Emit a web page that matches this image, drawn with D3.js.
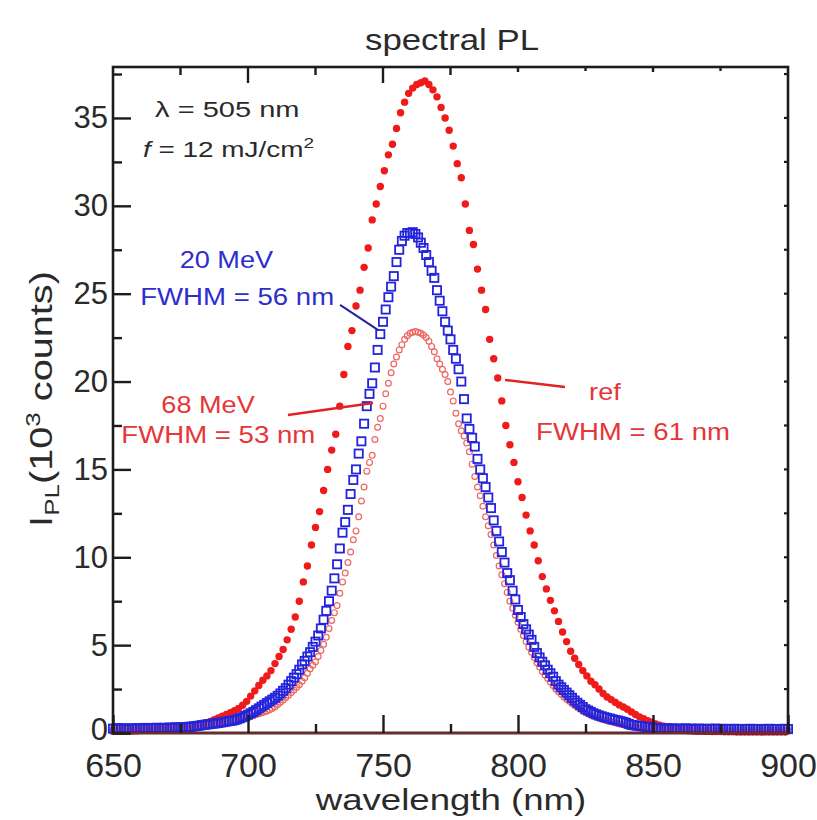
<!DOCTYPE html>
<html>
<head>
<meta charset="utf-8">
<script src="https://cdn.jsdelivr.net/npm/d3@7"></script>
<style>
  html, body { margin: 0; padding: 0; background: #fff; }
  svg { display: block; font-family: "Liberation Sans", Arial, Helvetica, sans-serif; }
</style>
</head>
<body>
<svg id="chart" width="817" height="820"></svg>
<script>
// ---- axis ticks ----
const xTicks = [650, 700, 750, 800, 850, 900];
const xMinorTicks = [675, 725, 775, 825, 875];
const yTicks = [0, 5, 10, 15, 20, 25, 30, 35];
const yMinorTicks = [2.5, 7.5, 12.5, 17.5, 22.5, 27.5, 32.5, 37.5];

// ---- reference spectrum (filled dots), sampled every 1.5 nm from 650 nm ----
const refStart = 650, refStep = 1.5;
const refCounts = [
  0.10,0.10,0.10,0.10,0.12,0.12,0.13,0.14,0.15,0.16,   // 650
  0.17,0.19,0.20,0.22,0.24,0.26,0.28,0.30,0.32,0.35,   // 665
  0.40,0.45,0.52,0.58,0.66,0.75,0.85,0.95,1.05,1.15,   // 680
  1.27,1.40,1.58,1.80,2.10,2.40,2.70,3.00,3.25,3.55,   // 695
  3.95,4.35,4.75,5.30,5.90,6.60,7.50,8.60,9.50,10.7,   // 710
  11.7,12.6,13.8,15.0,16.1,17.0,18.6,20.4,22.0,22.9,   // 725
  24.3,25.2,26.5,27.6,29.2,30.1,31.1,32.0,32.9,33.5,   // 740
  34.4,35.3,35.9,36.4,36.7,36.9,37.0,37.1,36.9,36.6,   // 755
  36.2,35.6,35.0,34.3,33.4,32.4,31.6,30.1,28.6,27.8,   // 770
  26.4,25.2,24.1,22.4,21.3,20.2,18.9,17.5,16.4,15.4,   // 785
  14.3,13.4,12.4,11.5,10.7,9.8,8.9,8.2,7.55,6.95,      // 800
  6.35,5.75,5.20,4.65,4.25,3.90,3.55,3.25,2.95,2.75,   // 815
  2.50,2.25,2.05,1.90,1.75,1.60,1.48,1.35,1.20,1.05,   // 830
  0.92,0.82,0.70,0.62,0.52,0.45,0.38,0.32,0.27,0.22,   // 845
  0.18,0.15,0.13,0.12,0.10,0.10,0.09,0.09,0.08,0.08,   // 860
  0.08,0.07,0.07,0.07,0.06,0.06,0.06,0.06,0.05,0.05,   // 875
  0.05,0.05,0.05,0.05,0.05,0.05,0.05                   // 890
];

// ---- 20 MeV spectrum (open squares), every 1 nm from 650 nm ----
const mev20Start = 650, mev20Step = 1;
const mev20Counts = [
  0.25,0.22,0.28,0.24,0.26,0.22,0.27,0.25,0.23,0.28,   // 650
  0.26,0.24,0.29,0.25,0.27,0.26,0.30,0.27,0.28,0.30,   // 660
  0.28,0.31,0.29,0.32,0.30,0.33,0.31,0.34,0.35,0.36,   // 670
  0.38,0.40,0.42,0.45,0.47,0.49,0.51,0.53,0.55,0.57,   // 680
  0.60,0.62,0.65,0.68,0.70,0.73,0.78,0.84,0.90,0.97,   // 690
  1.04,1.12,1.20,1.30,1.40,1.50,1.60,1.70,1.80,1.90,   // 700
  2.00,2.12,2.25,2.40,2.55,2.75,2.95,3.15,3.35,3.60,   // 710
  3.90,4.10,4.35,4.60,4.90,5.20,5.55,5.95,6.45,6.95,   // 720
  7.50,8.10,8.80,9.60,10.5,11.4,12.0,12.7,13.6,14.4,   // 730
  15.0,15.9,16.6,17.6,18.6,19.3,19.9,20.8,21.8,22.7,   // 740
  23.4,24.1,24.8,25.4,26.0,26.8,27.5,28.0,28.3,28.45,  // 750
  28.45,28.5,28.4,28.2,27.9,27.6,27.2,26.8,26.3,25.9,  // 760
  25.2,24.6,24.0,23.4,22.9,22.4,21.8,21.3,20.7,20.0,   // 770
  19.0,17.9,17.3,16.8,16.3,15.6,15.0,14.5,14.0,13.4,   // 780
  12.8,12.1,11.5,10.9,10.3,9.7,9.1,8.7,8.1,7.6,        // 790
  7.0,6.6,6.2,5.9,5.6,5.3,4.9,4.55,4.3,4.05,           // 800
  3.85,3.6,3.4,3.2,2.95,2.75,2.6,2.45,2.3,2.15,        // 810
  2.0,1.85,1.72,1.6,1.48,1.35,1.28,1.2,1.12,1.06,      // 820
  1.0,0.95,0.9,0.86,0.82,0.78,0.74,0.71,0.67,0.63,     // 830
  0.58,0.52,0.46,0.44,0.42,0.40,0.38,0.36,0.34,0.32,   // 840
  0.30,0.28,0.27,0.26,0.25,0.27,0.24,0.26,0.25,0.23,   // 850
  0.25,0.24,0.26,0.23,0.25,0.24,0.22,0.25,0.23,0.24,   // 860
  0.22,0.24,0.23,0.25,0.22,0.23,0.24,0.21,0.23,0.22,   // 870
  0.24,0.22,0.23,0.21,0.23,0.22,0.24,0.21,0.22,0.23,   // 880
  0.21,0.23,0.22,0.24,0.21,0.22,0.23,0.21,0.22,0.24,0.22 // 890
];

// ---- 68 MeV spectrum (open circles), every 1 nm from 650 nm ----
const mev68Start = 650, mev68Step = 1;
const mev68Counts = [
  0.20,0.18,0.22,0.20,0.19,0.21,0.20,0.22,0.19,0.21,   // 650
  0.20,0.22,0.21,0.23,0.22,0.24,0.23,0.25,0.24,0.26,   // 660
  0.25,0.27,0.26,0.28,0.27,0.29,0.30,0.31,0.32,0.33,   // 670
  0.34,0.36,0.37,0.39,0.40,0.42,0.44,0.46,0.48,0.50,   // 680
  0.52,0.55,0.58,0.61,0.64,0.67,0.71,0.75,0.80,0.85,   // 690
  0.90,0.95,1.00,1.05,1.10,1.15,1.20,1.25,1.32,1.40,   // 700
  1.50,1.62,1.75,1.88,2.02,2.15,2.30,2.45,2.60,2.75,   // 710
  2.95,3.15,3.40,3.65,3.85,4.05,4.35,4.70,5.05,5.45,   // 720
  5.95,6.40,6.85,7.25,7.95,8.60,9.10,9.70,10.3,11.0,   // 730
  11.5,12.3,13.2,14.0,14.9,15.4,15.8,16.7,17.4,17.9,   // 740
  18.6,19.3,19.9,20.5,21.0,21.4,21.8,22.1,22.4,22.6,   // 750
  22.75,22.8,22.85,22.8,22.75,22.65,22.5,22.3,22.0,21.7, // 760
  21.3,21.0,20.7,20.4,20.0,19.4,18.9,18.2,17.6,17.2,   // 770
  16.9,16.5,16.0,15.3,14.6,14.0,13.5,12.9,12.3,11.8,   // 780
  11.3,10.7,10.1,9.5,9.0,8.5,8.0,7.5,7.1,6.7,          // 790
  6.3,5.9,5.55,5.2,4.9,4.6,4.3,4.0,3.75,3.5,           // 800
  3.3,3.1,2.9,2.7,2.5,2.35,2.2,2.05,1.92,1.8,          // 810
  1.68,1.56,1.45,1.35,1.26,1.18,1.1,1.03,0.96,0.9,     // 820
  0.85,0.8,0.75,0.7,0.66,0.62,0.58,0.54,0.5,0.47,      // 830
  0.44,0.41,0.38,0.36,0.34,0.32,0.3,0.28,0.27,0.26,    // 840
  0.25,0.24,0.23,0.22,0.22,0.21,0.21,0.2,0.2,0.2,      // 850
  0.2,0.19,0.19,0.19,0.18,0.18,0.18,0.18,0.17,0.17,    // 860
  0.17,0.17,0.17,0.16,0.16,0.16,0.16,0.16,0.16,0.16,   // 870
  0.15,0.15,0.15,0.15,0.15,0.15,0.15,0.15,0.15,0.15,   // 880
  0.15,0.15,0.15,0.15,0.15,0.15,0.15,0.15,0.15,0.15,0.15 // 890
];

// ---- annotation texts ----
const titleText = "spectral PL";
const xAxisTitle = "wavelength (nm)";
const refLabel = ["ref", "FWHM = 61 nm"];
const mev20Label = ["20 MeV", "FWHM = 56 nm"];
const mev68Label = ["68 MeV", "FWHM = 53 nm"];

// ---------------------------------------------------------------
(function draw() {
  const svg = d3.select("#chart");
  const plotLeft = 113, plotRight = 788, plotTop = 67, plotBottom = 733;

  const x = d3.scaleLinear().domain([650, 900]).range([plotLeft, plotRight]);
  const y = d3.scaleLinear().domain([0, 37.9]).range([plotBottom, plotTop]);

  const toPoints = (start, step, vals) => vals.map((v, i) => ({ w: start + i * step, v }));
  const refPts = toPoints(refStart, refStep, refCounts);
  const mev20Pts = toPoints(mev20Start, mev20Step, mev20Counts);
  const mev68Pts = toPoints(mev68Start, mev68Step, mev68Counts);

  const axisColor = "#1c1c1c";
  const textColor = "#2a2a2a";

  // ---- data marks ----
  svg.append("g").selectAll("circle").data(refPts).join("circle")
    .attr("cx", d => x(d.w)).attr("cy", d => y(d.v)).attr("r", 3.7)
    .attr("fill", "#f01a1a");

  svg.append("g").selectAll("circle").data(mev68Pts).join("circle")
    .attr("cx", d => x(d.w)).attr("cy", d => y(d.v)).attr("r", 2.9)
    .attr("fill", "none").attr("stroke", "#ec6660").attr("stroke-width", 1.2);

  const sq = 8.2;
  svg.append("g").selectAll("rect").data(mev20Pts).join("rect")
    .attr("x", d => x(d.w) - sq / 2).attr("y", d => y(d.v) - sq / 2)
    .attr("width", sq).attr("height", sq)
    .attr("fill", "none").attr("stroke", "#2424dc").attr("stroke-width", 1.8);

  // ---- frame ----
  svg.append("rect")
    .attr("x", plotLeft).attr("y", plotTop)
    .attr("width", plotRight - plotLeft).attr("height", plotBottom - plotTop)
    .attr("fill", "none").attr("stroke", axisColor).attr("stroke-width", 2.6);
  svg.append("line")
    .attr("x1", plotLeft).attr("x2", plotRight).attr("y1", plotBottom).attr("y2", plotBottom)
    .attr("stroke", "#6e2a2e").attr("stroke-width", 2.6);

  // ---- bottom axis (inward ticks) ----
  const gx = svg.append("g").attr("transform", `translate(0,${plotBottom})`)
    .call(d3.axisBottom(x).tickValues(xTicks).tickFormat(d3.format("d"))
      .tickSize(-18).tickSizeOuter(0).tickPadding(20));
  gx.select(".domain").remove();
  gx.selectAll(".tick line").attr("stroke", axisColor).attr("stroke-width", 2.4);
  gx.selectAll(".tick text").attr("font-size", 34).attr("fill", textColor)
    .attr("font-family", '"Liberation Sans", Arial, sans-serif');

  const gxm = svg.append("g").attr("transform", `translate(0,${plotBottom})`)
    .call(d3.axisBottom(x).tickValues(xMinorTicks).tickFormat("").tickSize(-9).tickSizeOuter(0));
  gxm.select(".domain").remove();
  gxm.selectAll(".tick line").attr("stroke", axisColor).attr("stroke-width", 2.4);

  // ---- left axis ----
  const gy = svg.append("g").attr("transform", `translate(${plotLeft},0)`)
    .call(d3.axisLeft(y).tickValues(yTicks).tickFormat(d3.format("d"))
      .tickSize(-18).tickSizeOuter(0).tickPadding(5));
  gy.select(".domain").remove();
  gy.selectAll(".tick line").attr("stroke", axisColor).attr("stroke-width", 2.4);
  gy.selectAll(".tick text").attr("font-size", 31).attr("fill", textColor)
    .attr("font-family", '"Liberation Sans", Arial, sans-serif')
    .attr("dy", d => d === 0 ? "0.22em" : "0.32em");

  const gym = svg.append("g").attr("transform", `translate(${plotLeft},0)`)
    .call(d3.axisLeft(y).tickValues(yMinorTicks).tickFormat("").tickSize(-9).tickSizeOuter(0));
  gym.select(".domain").remove();
  gym.selectAll(".tick line").attr("stroke", axisColor).attr("stroke-width", 2.4);

  // ---- top axis ticks (mirror) ----
  const topTicks = xTicks.map(v => ({ v, len: v <= 775 ? 16 : 5 }))
    .concat(xMinorTicks.map(v => ({ v, len: v <= 775 ? 8 : 4 })));
  svg.append("g").selectAll("line").data(topTicks.filter(d => d.v > 650 && d.v < 900)).join("line")
    .attr("x1", d => x(d.v)).attr("x2", d => x(d.v))
    .attr("y1", plotTop).attr("y2", d => plotTop + d.len)
    .attr("stroke", axisColor).attr("stroke-width", 2.4);

  // ---- right axis ticks (mirror, short) ----
  const rightTicks = yTicks.concat(yMinorTicks).filter(v => v > 0);
  svg.append("g").selectAll("line").data(rightTicks).join("line")
    .attr("x1", plotRight).attr("x2", plotRight - 4)
    .attr("y1", d => y(d)).attr("y2", d => y(d))
    .attr("stroke", axisColor).attr("stroke-width", 2.2);

  // ---- text helper: horizontally scaled label ----
  function label(px, py, opts) {
    const g = svg.append("g")
      .attr("transform", `translate(${px},${py}) rotate(${opts.rotate || 0}) scale(${opts.sx || 1},1)`);
    return g.append("text")
      .attr("font-size", opts.size)
      .attr("fill", opts.color || textColor)
      .attr("text-anchor", opts.anchor || "middle");
  }

  // title
  label(452, 50, { size: 29, sx: 1.2 }).text(titleText);

  // x axis title
  label(451, 810, { size: 30, sx: 1.22 }).text(xAxisTitle);

  // y axis title with sub/superscripts
  {
    const t = label(52, 399, { size: 32, sx: 1.24, rotate: -90 });
    t.append("tspan").text("I");
    t.append("tspan").attr("font-size", 21).attr("dy", 7).text("PL");
    t.append("tspan").attr("dy", -7).text("(10");
    t.append("tspan").attr("font-size", 21).attr("dy", -12).text("3");
    t.append("tspan").attr("dy", 12).text(" counts)");
  }

  // excitation conditions
  {
    label(x(665.6), y(35.06), { size: 22, sx: 1.32, anchor: "start" }).text("\u03bb = 505 nm");
    const t2 = label(x(661.1), y(32.78), { size: 22, sx: 1.27, anchor: "start" });
    t2.append("tspan").attr("font-style", "italic").text("f");
    t2.append("tspan").text(" = 12 mJ/cm");
    t2.append("tspan").attr("font-size", 15).attr("dy", -9).text("2");
  }

  // series annotations with leader lines
  const blueText = "#2e2ecc", redText = "#e63638";
  label(x(692), y(26.47), { size: 24, sx: 1.13, color: blueText }).text(mev20Label[0]);
  label(x(696), y(24.36), { size: 24, sx: 1.15, color: blueText }).text(mev20Label[1]);
  svg.append("line")
    .attr("x1", x(734.1)).attr("y1", y(24.36)).attr("x2", x(748.1)).attr("y2", y(22.94))
    .attr("stroke", "#22229a").attr("stroke-width", 2);

  label(x(685.2), y(18.21), { size: 24, sx: 1.13, color: redText }).text(mev68Label[0]);
  label(x(689), y(16.5), { size: 24, sx: 1.15, color: redText }).text(mev68Label[1]);
  svg.append("line")
    .attr("x1", x(714.8)).attr("y1", y(18.1)).attr("x2", x(746.3)).attr("y2", y(18.78))
    .attr("stroke", "#e02424").attr("stroke-width", 2.4);

  label(x(832.2), y(18.95), { size: 24, sx: 1.13, color: redText }).text(refLabel[0]);
  label(x(842.6), y(16.68), { size: 24, sx: 1.15, color: redText }).text(refLabel[1]);
  svg.append("line")
    .attr("x1", x(795.2)).attr("y1", y(20.09)).attr("x2", x(817.4)).attr("y2", y(19.69))
    .attr("stroke", "#e02424").attr("stroke-width", 2.4);
})();
</script>
</body>
</html>
